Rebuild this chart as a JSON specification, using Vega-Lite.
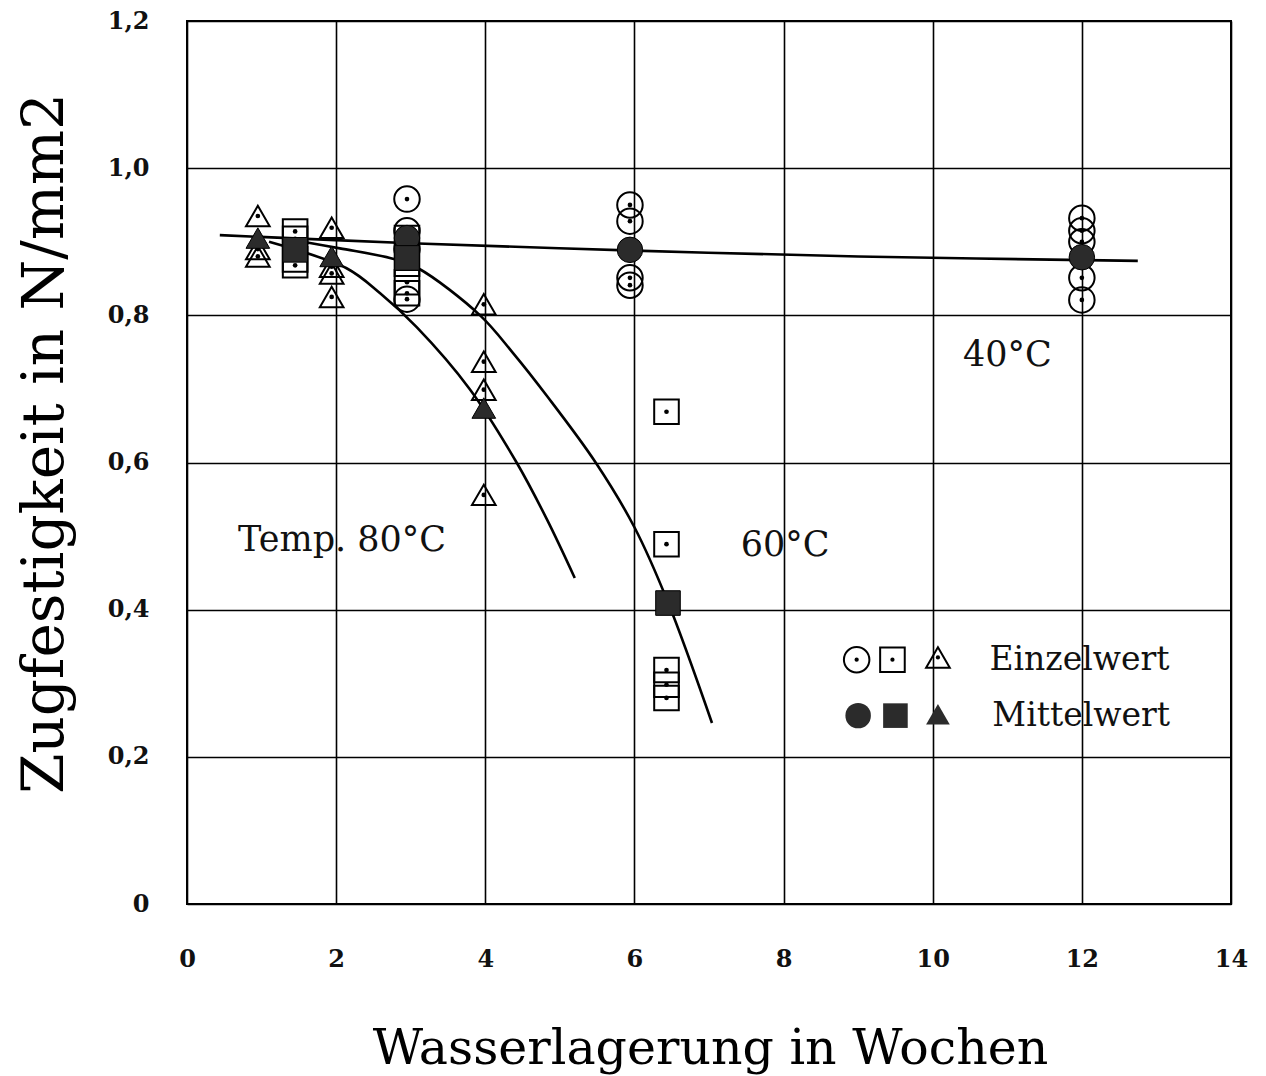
{
  "$schema": "https://vega.github.io/schema/vega-lite/v6.json",
  "width": 1044,
  "height": 883,
  "autosize": {"type": "none"},
  "padding": {"left": 187, "top": 21, "right": 35, "bottom": 172},
  "background": "white",
  "config": {
    "view": {"stroke": "#000", "strokeWidth": 2},
    "font": "DejaVu Serif"
  },
  "datasets": {
    "pts": [
      {"temp": "40", "kind": "E", "x": 2.95, "y": 0.958},
      {"temp": "40", "kind": "E", "x": 2.95, "y": 0.915},
      {"temp": "40", "kind": "E", "x": 2.95, "y": 0.89},
      {"temp": "40", "kind": "E", "x": 2.95, "y": 0.822},
      {"temp": "40", "kind": "E", "x": 5.94, "y": 0.95},
      {"temp": "40", "kind": "E", "x": 5.94, "y": 0.928},
      {"temp": "40", "kind": "E", "x": 5.94, "y": 0.851},
      {"temp": "40", "kind": "E", "x": 5.94, "y": 0.841},
      {"temp": "40", "kind": "E", "x": 12.0, "y": 0.932},
      {"temp": "40", "kind": "E", "x": 12.0, "y": 0.915},
      {"temp": "40", "kind": "E", "x": 12.0, "y": 0.9},
      {"temp": "40", "kind": "E", "x": 12.0, "y": 0.851},
      {"temp": "40", "kind": "E", "x": 12.0, "y": 0.821},
      {"temp": "60", "kind": "E", "x": 1.45, "y": 0.914},
      {"temp": "60", "kind": "E", "x": 1.45, "y": 0.904},
      {"temp": "60", "kind": "E", "x": 1.45, "y": 0.876},
      {"temp": "60", "kind": "E", "x": 1.45, "y": 0.868},
      {"temp": "60", "kind": "E", "x": 2.95, "y": 0.905},
      {"temp": "60", "kind": "E", "x": 2.95, "y": 0.87},
      {"temp": "60", "kind": "E", "x": 2.95, "y": 0.845},
      {"temp": "60", "kind": "E", "x": 2.95, "y": 0.83},
      {"temp": "60", "kind": "E", "x": 6.43, "y": 0.669},
      {"temp": "60", "kind": "E", "x": 6.43, "y": 0.489},
      {"temp": "60", "kind": "E", "x": 6.43, "y": 0.318},
      {"temp": "60", "kind": "E", "x": 6.43, "y": 0.298},
      {"temp": "60", "kind": "E", "x": 6.43, "y": 0.28},
      {"temp": "80", "kind": "E", "x": 0.95, "y": 0.935},
      {"temp": "80", "kind": "E", "x": 0.95, "y": 0.89},
      {"temp": "80", "kind": "E", "x": 0.95, "y": 0.88},
      {"temp": "80", "kind": "E", "x": 1.94, "y": 0.919},
      {"temp": "80", "kind": "E", "x": 1.94, "y": 0.866},
      {"temp": "80", "kind": "E", "x": 1.94, "y": 0.857},
      {"temp": "80", "kind": "E", "x": 1.94, "y": 0.825},
      {"temp": "80", "kind": "E", "x": 3.98, "y": 0.815},
      {"temp": "80", "kind": "E", "x": 3.98, "y": 0.737},
      {"temp": "80", "kind": "E", "x": 3.98, "y": 0.699},
      {"temp": "80", "kind": "E", "x": 3.98, "y": 0.556},
      {"temp": "40", "kind": "M", "x": 2.95, "y": 0.905},
      {"temp": "40", "kind": "M", "x": 5.94, "y": 0.889},
      {"temp": "40", "kind": "M", "x": 12.0, "y": 0.879},
      {"temp": "60", "kind": "M", "x": 1.45, "y": 0.889},
      {"temp": "60", "kind": "M", "x": 2.95, "y": 0.878},
      {"temp": "60", "kind": "M", "x": 6.45, "y": 0.409},
      {"temp": "80", "kind": "M", "x": 0.95, "y": 0.905},
      {"temp": "80", "kind": "M", "x": 1.94, "y": 0.88},
      {"temp": "80", "kind": "M", "x": 3.98, "y": 0.674}
    ],
    "curves": [
      {"temp": "40", "o": 1, "x": 0.44, "y": 0.909},
      {"temp": "40", "o": 2, "x": 3.0, "y": 0.898},
      {"temp": "40", "o": 3, "x": 6.0, "y": 0.888},
      {"temp": "40", "o": 4, "x": 9.0, "y": 0.88},
      {"temp": "40", "o": 5, "x": 12.75, "y": 0.874},
      {"temp": "60", "o": 1, "x": 1.5, "y": 0.901},
      {"temp": "60", "o": 2, "x": 2.05, "y": 0.891},
      {"temp": "60", "o": 3, "x": 2.76, "y": 0.877},
      {"temp": "60", "o": 4, "x": 3.1, "y": 0.864},
      {"temp": "60", "o": 5, "x": 3.93, "y": 0.8},
      {"temp": "60", "o": 6, "x": 4.37, "y": 0.749},
      {"temp": "60", "o": 7, "x": 4.83, "y": 0.69},
      {"temp": "60", "o": 8, "x": 5.48, "y": 0.6},
      {"temp": "60", "o": 9, "x": 6.0, "y": 0.512},
      {"temp": "60", "o": 10, "x": 6.45, "y": 0.41},
      {"temp": "60", "o": 11, "x": 7.04, "y": 0.246},
      {"temp": "80", "o": 1, "x": 1.1, "y": 0.9},
      {"temp": "80", "o": 2, "x": 2.14, "y": 0.864},
      {"temp": "80", "o": 3, "x": 2.59, "y": 0.83},
      {"temp": "80", "o": 4, "x": 3.08, "y": 0.784},
      {"temp": "80", "o": 5, "x": 3.79, "y": 0.7},
      {"temp": "80", "o": 6, "x": 4.42, "y": 0.6},
      {"temp": "80", "o": 7, "x": 4.83, "y": 0.522},
      {"temp": "80", "o": 8, "x": 5.2, "y": 0.443}
    ],
    "legend": [
      {"temp": "40", "kind": "E", "x": 8.98, "y": 0.332},
      {"temp": "60", "kind": "E", "x": 9.46, "y": 0.332},
      {"temp": "80", "kind": "E", "x": 10.07, "y": 0.335},
      {"temp": "40", "kind": "M", "x": 9.0, "y": 0.256},
      {"temp": "60", "kind": "M", "x": 9.5, "y": 0.256},
      {"temp": "80", "kind": "M", "x": 10.07, "y": 0.258}
    ],
    "labels": [
      {"label": "Temp. 80°C", "x": 2.08, "y": 0.495, "align": "center"},
      {"label": "60°C", "x": 8.02, "y": 0.488, "align": "center"},
      {"label": "40°C", "x": 11.0, "y": 0.746, "align": "center"},
      {"label": "Einzelwert", "x": 10.76, "y": 0.332, "align": "left"},
      {"label": "Mittelwert", "x": 10.8, "y": 0.255, "align": "left"}
    ]
  },
  "encoding": {
    "x": {
      "field": "x", "type": "quantitative",
      "scale": {"domain": [0, 14], "nice": false, "zero": false},
      "axis": {
        "values": [0, 2, 4, 6, 8, 10, 12, 14],
        "title": "Wasserlagerung in Wochen",
        "titleFont": "DejaVu Serif", "titleFontSize": 49, "titleFontWeight": "normal",
        "titleColor": "#000", "titleX": 523, "titleY": 144, "titleBaseline": "middle",
        "labelFont": "DejaVu Serif", "labelFontSize": 24, "labelFontWeight": "bold",
        "labelColor": "#111", "labelPadding": 43, "labelFlush": false,
        "ticks": false, "domain": false,
        "grid": true, "gridColor": "#000", "gridWidth": 1.6, "gridOpacity": 1
      }
    },
    "y": {
      "field": "y", "type": "quantitative",
      "scale": {"domain": [0, 1.2], "nice": false},
      "axis": {
        "values": [0, 0.2, 0.4, 0.6, 0.8, 1.0, 1.2],
        "labelExpr": "datum.value == 0 ? '0' : replace(format(datum.value, '.1f'), '.', ',')",
        "title": "Zugfestigkeit in N/mm2",
        "titleFont": "DejaVu Serif", "titleFontSize": 58, "titleFontWeight": "normal",
        "titleColor": "#000", "titleX": -142, "titleY": 422, "titleAngle": -90,
        "titleAlign": "center", "titleBaseline": "middle",
        "labelFont": "DejaVu Serif", "labelFontSize": 24, "labelFontWeight": "bold",
        "labelColor": "#111", "labelPadding": 38, "labelFlush": false,
        "ticks": false, "domain": false,
        "grid": true, "gridColor": "#000", "gridWidth": 1.6, "gridOpacity": 1
      }
    }
  },
  "layer": [
    {
      "data": {"name": "curves"},
      "mark": {"type": "line", "interpolate": "catmull-rom", "color": "#000", "strokeWidth": 2.6},
      "encoding": {
        "detail": {"field": "temp"},
        "order": {"field": "o", "type": "quantitative"}
      }
    },
    {
      "data": {"name": "pts"},
      "transform": [{"filter": "datum.kind == 'E'"}],
      "mark": {"type": "point", "filled": false, "color": "#000", "strokeWidth": 2, "opacity": 1},
      "encoding": {
        "shape": {"field": "temp", "type": "nominal", "scale": {"domain": ["40", "60", "80"], "range": ["circle", "square", "triangle-up"]}, "legend": null},
        "size": {"field": "temp", "type": "nominal", "scale": {"domain": ["40", "60", "80"], "range": [650, 560, 700]}, "legend": null}
      }
    },
    {
      "data": {"name": "pts"},
      "transform": [{"filter": "datum.kind == 'E'"}],
      "mark": {"type": "point", "filled": true, "shape": "circle", "color": "#000", "size": 22, "opacity": 1}
    },
    {
      "data": {"name": "pts"},
      "transform": [{"filter": "datum.kind == 'M'"}],
      "mark": {"type": "point", "filled": true, "color": "#2b2b2b", "stroke": "#000", "strokeWidth": 1, "opacity": 1},
      "encoding": {
        "shape": {"field": "temp", "type": "nominal", "scale": {"domain": ["40", "60", "80"], "range": ["circle", "square", "triangle-up"]}, "legend": null},
        "size": {"field": "temp", "type": "nominal", "scale": {"domain": ["40", "60", "80"], "range": [700, 576, 700]}, "legend": null}
      }
    },
    {
      "data": {"name": "legend"},
      "transform": [{"filter": "datum.kind == 'E'"}],
      "mark": {"type": "point", "filled": false, "color": "#000", "strokeWidth": 2, "opacity": 1},
      "encoding": {
        "shape": {"field": "temp", "type": "nominal", "scale": {"domain": ["40", "60", "80"], "range": ["circle", "square", "triangle-up"]}, "legend": null},
        "size": {"field": "temp", "type": "nominal", "scale": {"domain": ["40", "60", "80"], "range": [300, 400, 620]}, "legend": null}
      }
    },
    {
      "data": {"name": "legend"},
      "transform": [{"filter": "datum.kind == 'E'"}],
      "mark": {"type": "point", "filled": true, "shape": "circle", "color": "#000", "size": 18, "opacity": 1}
    },
    {
      "data": {"name": "legend"},
      "transform": [{"filter": "datum.kind == 'M'"}],
      "mark": {"type": "point", "filled": true, "color": "#2b2b2b", "opacity": 1},
      "encoding": {
        "shape": {"field": "temp", "type": "nominal", "scale": {"domain": ["40", "60", "80"], "range": ["circle", "square", "triangle-up"]}, "legend": null},
        "size": {"field": "temp", "type": "nominal", "scale": {"domain": ["40", "60", "80"], "range": [340, 430, 650]}, "legend": null}
      }
    },
    {
      "data": {"name": "labels"},
      "transform": [{"filter": "datum.align == 'center'"}],
      "mark": {"type": "text", "font": "DejaVu Serif", "fontSize": 35, "color": "#111", "align": "center", "baseline": "middle"},
      "encoding": {"text": {"field": "label"}}
    },
    {
      "data": {"name": "labels"},
      "transform": [{"filter": "datum.align == 'left'"}],
      "mark": {"type": "text", "font": "DejaVu Serif", "fontSize": 33, "color": "#111", "align": "left", "baseline": "middle"},
      "encoding": {"text": {"field": "label"}}
    }
  ]
}
